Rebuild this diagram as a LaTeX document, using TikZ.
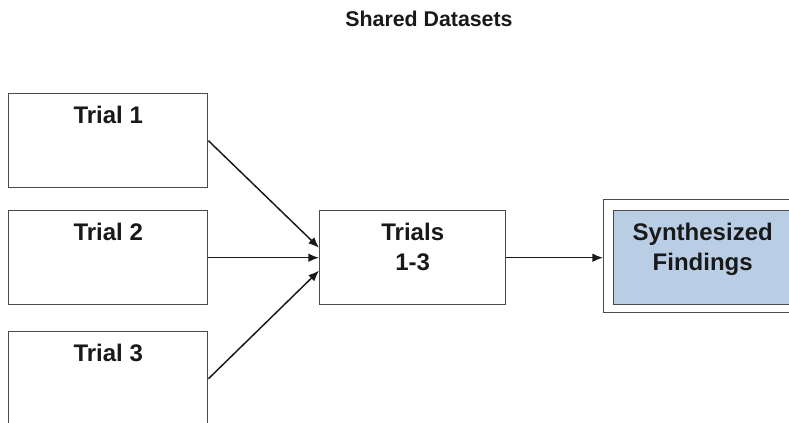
\documentclass[tikz,border=0pt]{standalone}
\usepackage{fontspec}
\setmainfont{Liberation Sans}
\usetikzlibrary{arrows.meta,calc}
\definecolor{synfill}{HTML}{B9CDE5}
\definecolor{boxline}{HTML}{4A4A4A}
\begin{document}
\begin{tikzpicture}[x=0.75pt,y=-0.75pt,
  box/.style={draw=boxline, line width=1.1pt, minimum height=70.5pt, inner sep=0pt, anchor=north west},
  lbl/.style={font=\fontsize{18pt}{22.5pt}\selectfont\bfseries, align=center, inner sep=0pt, anchor=north, text=black!90},
  conn/.style={draw=black!90, line width=1.1pt, -{Latex[length=8pt,width=6.5pt]}}]
\clip (0,0) rectangle (789,423);
\useasboundingbox (0,0) rectangle (789,423);
\node[font=\fontsize{16pt}{19pt}\selectfont\bfseries, anchor=base, inner sep=0pt, text=black!90] (title) at (429,27) {Shared Datasets};
\node[box, minimum width=149.25pt] (t1) at (8,93) {};
\node[box, minimum width=149.25pt] (t2) at (8,210) {};
\node[box, minimum width=149.25pt] (t3) at (8,331) {};
\node[box, minimum width=139.5pt] (m) at (319,210) {};
\node[box, minimum width=148.5pt, minimum height=84.75pt] (so) at (603,199) {};
\node[box, minimum width=133.5pt, fill=synfill] (si) at (613,210) {};
\node[lbl] (t1l) at ($(t1.north)+(0,-9.5pt)$) {Trial 1};
\node[lbl] (t2l) at ($(t2.north)+(0,-9.5pt)$) {Trial 2};
\node[lbl] (t3l) at ($(t3.north)+(0,-9.5pt)$) {Trial 3};
\node[lbl] (ml) at ($(m.north)+(0,-9.5pt)$) {Trials\\1-3};
\node[lbl] (sl) at ($(si.north)+(0,-9.5pt)$) {Synthesized\\Findings};
\draw[conn] (t1.east) -- ($(m.west)+(0,7.5pt)$);
\draw[conn] (t2.east) -- (t2.east -| m.west);
\draw[conn] (t3.east) -- ($(m.west)+(0,-9.75pt)$);
\draw[conn] (m.east) -- (m.east -| so.west);
\end{tikzpicture}
\end{document}
